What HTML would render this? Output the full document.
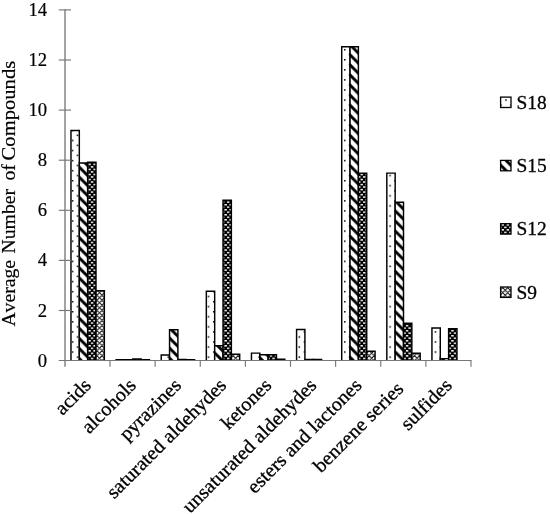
<!DOCTYPE html>
<html><head><meta charset="utf-8"><title>chart</title>
<style>
html,body{margin:0;padding:0;background:#fff;}
svg{display:block;}
text{font-family:"Liberation Serif","Times New Roman",serif;font-size:18.67px;fill:#000;}
text.b{stroke:#000;stroke-width:0.3px;}
text.c{stroke:#000;stroke-width:0.2px;}
</style></head><body>
<svg width="550" height="514" viewBox="0 0 550 514">
<defs>
<pattern id="p18" patternUnits="userSpaceOnUse" x="1.24" y="8.61" width="10.08" height="10.08">
<rect width="10.08" height="10.08" fill="#fff"/>
<rect x="0" y="0" width="1.5" height="1.5" fill="#000"/>
<rect x="5.04" y="5.04" width="1.5" height="1.5" fill="#000"/>
</pattern>
<pattern id="p15" patternUnits="userSpaceOnUse" x="0" y="7.2" width="10.08" height="10.08">
<rect width="10.08" height="10.08" fill="#fff"/>
<path d="M-5,-5 L15,15 M-5,5.08 L5,15.08 M5.08,-5 L15.08,5" stroke="#000" stroke-width="2.85" fill="none"/>
</pattern>
<pattern id="p12" patternUnits="userSpaceOnUse" x="0.10" y="-0.19" width="5.04" height="5.04">
<rect width="5.04" height="5.04" fill="#000"/>
<rect x="0" y="0" width="2.52" height="1.5" rx="0.5" fill="#fff"/>
<rect x="2.52" y="2.52" width="2.52" height="1.5" rx="0.5" fill="#fff"/>
</pattern>
<pattern id="p9" patternUnits="userSpaceOnUse" x="0" y="0" width="5.04" height="5.04">
<rect width="5.04" height="5.04" fill="#fff"/>
<path d="M-2,-0.32 L7,8.68 M-2,-5.36 L7,3.64 M-2,4.72 L7,13.72 M-2,6.12 L7,-2.88 M-2,11.16 L7,2.16 M-2,1.08 L7,-7.92" stroke="#000" stroke-width="0.95" fill="none"/>
</pattern>
</defs>
<rect width="550" height="514" fill="#fff"/>

<g stroke="#000" stroke-width="1.45">
<path d="M70.98,360.30 V130.50 H79.32 V360.30" fill="url(#p18)"/>
<path d="M79.32,360.30 V162.90 H87.66 V360.30" fill="url(#p15)"/>
<path d="M87.66,360.30 V162.20 H96.00 V360.30" fill="url(#p12)"/>
<path d="M96.00,360.30 V290.70 H104.34 V360.30" fill="url(#p9)"/>
<path d="M116.10,360.30 V359.60 H124.44 V360.30" fill="url(#p18)"/>
<path d="M124.44,360.30 V359.60 H132.78 V360.30" fill="url(#p15)"/>
<path d="M132.78,360.30 V359.00 H141.12 V360.30" fill="url(#p12)"/>
<path d="M141.12,360.30 V359.65 H149.46 V360.30" fill="url(#p9)"/>
<path d="M161.22,360.30 V354.90 H169.56 V360.30" fill="url(#p18)"/>
<path d="M169.56,360.30 V329.70 H177.90 V360.30" fill="url(#p15)"/>
<path d="M177.90,360.30 V359.40 H186.24 V360.30" fill="url(#p12)"/>
<path d="M186.24,360.30 V359.65 H194.58 V360.30" fill="url(#p9)"/>
<path d="M206.34,360.30 V291.20 H214.68 V360.30" fill="url(#p18)"/>
<path d="M214.68,360.30 V345.80 H223.02 V360.30" fill="url(#p15)"/>
<path d="M223.02,360.30 V200.20 H231.36 V360.30" fill="url(#p12)"/>
<path d="M231.36,360.30 V354.20 H239.70 V360.30" fill="url(#p9)"/>
<path d="M251.46,360.30 V353.10 H259.80 V360.30" fill="url(#p18)"/>
<path d="M259.80,360.30 V354.70 H268.14 V360.30" fill="url(#p15)"/>
<path d="M268.14,360.30 V354.70 H276.48 V360.30" fill="url(#p12)"/>
<path d="M276.48,360.30 V359.20 H284.82 V360.30" fill="url(#p9)"/>
<path d="M296.58,360.30 V329.40 H304.92 V360.30" fill="url(#p18)"/>
<path d="M304.92,360.30 V359.55 H313.26 V360.30" fill="url(#p15)"/>
<path d="M313.26,360.30 V359.55 H321.60 V360.30" fill="url(#p12)"/>
<path d="M341.70,360.30 V46.80 H350.04 V360.30" fill="url(#p18)"/>
<path d="M350.04,360.30 V46.80 H358.38 V360.30" fill="url(#p15)"/>
<path d="M358.38,360.30 V173.10 H366.72 V360.30" fill="url(#p12)"/>
<path d="M366.72,360.30 V351.20 H375.06 V360.30" fill="url(#p9)"/>
<path d="M386.82,360.30 V173.10 H395.16 V360.30" fill="url(#p18)"/>
<path d="M395.16,360.30 V202.30 H403.50 V360.30" fill="url(#p15)"/>
<path d="M403.50,360.30 V323.30 H411.84 V360.30" fill="url(#p12)"/>
<path d="M411.84,360.30 V353.30 H420.18 V360.30" fill="url(#p9)"/>
<path d="M431.94,360.30 V328.00 H440.28 V360.30" fill="url(#p18)"/>
<path d="M440.28,360.30 V358.60 H448.62 V360.30" fill="url(#p15)"/>
<path d="M448.62,360.30 V328.70 H456.96 V360.30" fill="url(#p12)"/>
</g>
<g stroke="#777" stroke-width="1.15" fill="none">
<path d="M65.0,9.3 V366.8" stroke-width="1.35"/>
<path d="M58.8,360.50 H471.6"/>
<path d="M58.8,9.90 H71"/>
<path d="M58.8,60.00 H71"/>
<path d="M58.8,110.10 H71"/>
<path d="M58.8,160.20 H71"/>
<path d="M58.8,210.30 H71"/>
<path d="M58.8,260.40 H71"/>
<path d="M58.8,310.50 H71"/>
<path d="M110.02,360.60 V366.8"/>
<path d="M155.14,360.60 V366.8"/>
<path d="M200.26,360.60 V366.8"/>
<path d="M245.38,360.60 V366.8"/>
<path d="M290.50,360.60 V366.8"/>
<path d="M335.62,360.60 V366.8"/>
<path d="M380.74,360.60 V366.8"/>
<path d="M425.86,360.60 V366.8"/>
<path d="M470.98,360.60 V366.8"/>
</g>
<text class="c" x="47.1" y="15.9" text-anchor="end">14</text>
<text class="c" x="47.1" y="66.0" text-anchor="end">12</text>
<text class="c" x="47.1" y="116.1" text-anchor="end">10</text>
<text class="c" x="47.1" y="166.2" text-anchor="end">8</text>
<text class="c" x="47.1" y="216.3" text-anchor="end">6</text>
<text class="c" x="47.1" y="266.4" text-anchor="end">4</text>
<text class="c" x="47.1" y="316.5" text-anchor="end">2</text>
<text class="c" x="47.1" y="366.6" text-anchor="end">0</text>
<text transform="translate(14.6,326.6) rotate(-90)" textLength="66.6" lengthAdjust="spacingAndGlyphs" class="c" style="font-size:19.5px;font-kerning:none">Average</text>
<text transform="translate(14.6,253.4) rotate(-90)" textLength="64.4" lengthAdjust="spacingAndGlyphs" class="c" style="font-size:19.5px;font-kerning:none">Number</text>
<text transform="translate(14.6,180.6) rotate(-90)" textLength="16.5" lengthAdjust="spacingAndGlyphs" class="c" style="font-size:19.5px;font-kerning:none">of</text>
<text transform="translate(14.6,160.4) rotate(-90)" textLength="99.6" lengthAdjust="spacingAndGlyphs" class="c" style="font-size:19.5px;font-kerning:none">Compounds</text>
<text class="b" transform="translate(92.1,386.4) rotate(-45) scale(1.04,1)" text-anchor="end" style="font-size:19.6px">acids</text>
<text class="b" transform="translate(137.2,386.4) rotate(-45) scale(1.04,1)" text-anchor="end" style="font-size:19.6px">alcohols</text>
<text class="b" transform="translate(182.3,386.4) rotate(-45) scale(1.04,1)" text-anchor="end" style="font-size:19.6px">pyrazines</text>
<text class="b" transform="translate(227.4,386.4) rotate(-45) scale(1.04,1)" text-anchor="end" style="font-size:19.6px">saturated aldehydes</text>
<text class="b" transform="translate(272.5,386.4) rotate(-45) scale(1.04,1)" text-anchor="end" style="font-size:19.6px">ketones</text>
<text class="b" transform="translate(317.7,386.4) rotate(-45) scale(1.04,1)" text-anchor="end" style="font-size:19.6px">unsaturated aldehydes</text>
<text class="b" transform="translate(362.8,386.4) rotate(-45) scale(1.04,1)" text-anchor="end" style="font-size:19.6px">esters and lactones</text>
<text class="b" transform="translate(404.5,389.8) rotate(-45) scale(1.04,1)" text-anchor="end" style="font-size:19.6px">benzene series</text>
<text class="b" transform="translate(453.0,386.4) rotate(-45) scale(1.04,1)" text-anchor="end" style="font-size:19.6px">sulfides</text>
<rect x="500.6" y="97.1" width="10.4" height="10.4" fill="url(#p18)" stroke="#000" stroke-width="1.3"/>
<text class="b" x="516.5" y="108.6" style="font-size:19.4px">S18</text>
<rect x="500.6" y="160.4" width="10.4" height="10.4" fill="url(#p15)" stroke="#000" stroke-width="1.3"/>
<text class="b" x="516.5" y="171.9" style="font-size:19.4px">S15</text>
<rect x="500.6" y="223.7" width="10.4" height="10.4" fill="url(#p12)" stroke="#000" stroke-width="1.3"/>
<text class="b" x="516.5" y="235.2" style="font-size:19.4px">S12</text>
<rect x="500.6" y="287.0" width="10.4" height="10.4" fill="url(#p9)" stroke="#000" stroke-width="1.3"/>
<text class="b" x="516.5" y="298.5" style="font-size:19.4px">S9</text>
</svg></body></html>
